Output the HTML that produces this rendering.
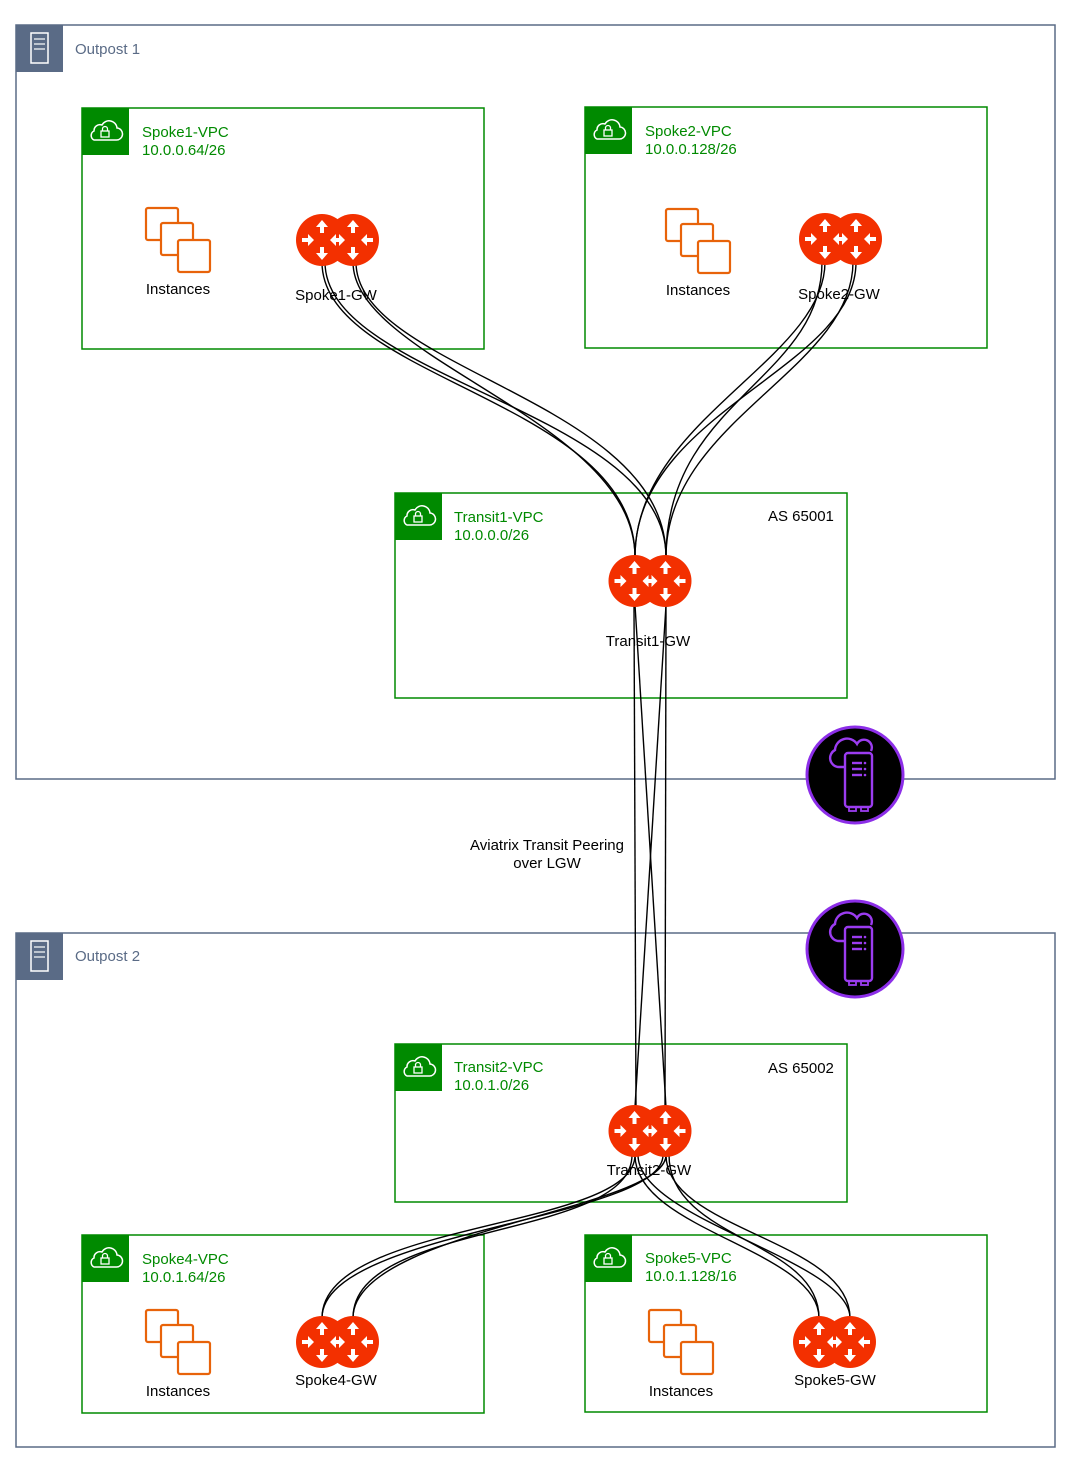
<!DOCTYPE html>
<html><head><meta charset="utf-8"><style>
html,body{margin:0;padding:0;background:#fff}
svg text{font-family:"Liberation Sans",Arial,sans-serif}
</style></head><body>
<svg width="1070" height="1464" viewBox="0 0 1070 1464" xmlns="http://www.w3.org/2000/svg">
<defs>
 <g id="rt1">
  <g fill="#fff">
   <path d="M0,-20 l-6,7 h4 v6 h4 v-6 h4z"/>
   <path d="M0,20 l-6,-7 h4 v-6 h4 v6 h4z"/>
   <path d="M-8,0 l-6,-6 v4 h-6 v4 h6 v4z"/>
   <path d="M8,0 l6,-6 v4 h6 v4 h-6 v4z"/>
  </g>
 </g>
 <g id="router">
  <circle cx="-15.5" cy="0" r="26" fill="#f33000"/>
  <circle cx="15.5" cy="0" r="26" fill="#f33000"/>
  <use href="#rt1" x="-15.5"/>
  <use href="#rt1" x="15.5"/>
 </g>
 <g id="inst" fill="none" stroke="#e8630a" stroke-width="2.2">
  <rect x="0" y="0" width="32" height="32" rx="2"/>
  <rect x="15" y="15" width="32" height="32" rx="2" fill="#fff"/>
  <rect x="32" y="32" width="32" height="32" rx="2" fill="#fff"/>
 </g>
 <g id="vpch">
  <rect x="0" y="0" width="47" height="47" fill="#008a00"/>
  <path d="M12,32 h22 a6,6 0 0 0 1,-12 a8,8 0 0 0 -15,-3 a6,6 0 0 0 -8,6 a5,5 0 0 0 0,9z" fill="none" stroke="#fff" stroke-width="1.5"/>
  <rect x="19" y="23" width="8" height="6" fill="none" stroke="#fff" stroke-width="1.3"/>
  <path d="M20.5,23 v-2 a2.5,2.5 0 0 1 5,0 v2" fill="none" stroke="#fff" stroke-width="1.3"/>
 </g>
 <g id="ophead">
  <rect x="0" y="0" width="47" height="47" fill="#5a6b86"/>
  <rect x="15" y="8" width="17" height="30" fill="none" stroke="#fff" stroke-width="1.5"/>
  <line x1="18" y1="14" x2="29" y2="14" stroke="#fff" stroke-width="1.2"/>
  <line x1="18" y1="19" x2="29" y2="19" stroke="#fff" stroke-width="1.2"/>
  <line x1="18" y1="24" x2="29" y2="24" stroke="#fff" stroke-width="1.2"/>
 </g>
 <g id="lgw">
  <circle cx="0" cy="0" r="48" fill="#000" stroke="#8c2ee8" stroke-width="3"/>
  <path d="M-10,-8 h-6 a9,9 0 0 1 -4,-17 a12,12 0 0 1 22,-6 a7,7 0 0 1 14,7" fill="none" stroke="#9b3cf0" stroke-width="2.4"/>
  <rect x="-10" y="-22" width="27" height="54" rx="3" fill="#000" stroke="#9b3cf0" stroke-width="2.4"/>
  <line x1="-3" y1="-12" x2="7" y2="-12" stroke="#9b3cf0" stroke-width="2.4"/>
  <line x1="-3" y1="-6" x2="7" y2="-6" stroke="#9b3cf0" stroke-width="2.4"/>
  <line x1="-3" y1="0" x2="7" y2="0" stroke="#9b3cf0" stroke-width="2.4"/>
  <circle cx="10" cy="-12" r="1.3" fill="#9b3cf0"/><circle cx="10" cy="-6" r="1.3" fill="#9b3cf0"/><circle cx="10" cy="0" r="1.3" fill="#9b3cf0"/>
  <rect x="-6" y="32" width="7" height="4" fill="none" stroke="#9b3cf0" stroke-width="1.8"/>
  <rect x="6" y="32" width="7" height="4" fill="none" stroke="#9b3cf0" stroke-width="1.8"/>
 </g>
</defs>

<rect x="16" y="25" width="1039" height="754" fill="none" stroke="#5a6b86" stroke-width="1.5"/>
<use href="#ophead" x="16" y="25"/>
<text x="75" y="54" font-size="15" fill="#5a6b86">Outpost 1</text>
<rect x="16" y="933" width="1039" height="514" fill="none" stroke="#5a6b86" stroke-width="1.5"/>
<use href="#ophead" x="16" y="933"/>
<text x="75" y="961" font-size="15" fill="#5a6b86">Outpost 2</text>

<g fill="none" stroke="#008a00" stroke-width="1.5">
 <rect x="82" y="108" width="402" height="241"/>
 <rect x="585" y="107" width="402" height="241"/>
 <rect x="395" y="493" width="452" height="205"/>
 <rect x="395" y="1044" width="452" height="158"/>
 <rect x="82" y="1235" width="402" height="178"/>
 <rect x="585" y="1235" width="402" height="177"/>
</g>
<use href="#vpch" x="82" y="108"/>
<use href="#vpch" x="585" y="107"/>
<use href="#vpch" x="395" y="493"/>
<use href="#vpch" x="395" y="1044"/>
<use href="#vpch" x="82" y="1235"/>
<use href="#vpch" x="585" y="1235"/>
<g font-size="15" fill="#008a00">
 <text x="142" y="137">Spoke1-VPC</text><text x="142" y="155">10.0.0.64/26</text>
 <text x="645" y="136">Spoke2-VPC</text><text x="645" y="154">10.0.0.128/26</text>
 <text x="454" y="522">Transit1-VPC</text><text x="454" y="540">10.0.0.0/26</text>
 <text x="454" y="1072">Transit2-VPC</text><text x="454" y="1090">10.0.1.0/26</text>
 <text x="142" y="1264">Spoke4-VPC</text><text x="142" y="1282">10.0.1.64/26</text>
 <text x="645" y="1263">Spoke5-VPC</text><text x="645" y="1281">10.0.1.128/16</text>
</g>
<g font-size="15" fill="#000">
 <text x="768" y="521">AS 65001</text>
 <text x="768" y="1073">AS 65002</text>
 <text x="178" y="294" text-anchor="middle">Instances</text>
 <text x="698" y="295" text-anchor="middle">Instances</text>
 <text x="178" y="1396" text-anchor="middle">Instances</text>
 <text x="681" y="1396" text-anchor="middle">Instances</text>
 <text x="336" y="300" text-anchor="middle">Spoke1-GW</text>
 <text x="839" y="299" text-anchor="middle">Spoke2-GW</text>
 <text x="648" y="646" text-anchor="middle">Transit1-GW</text>
 <text x="649" y="1175" text-anchor="middle">Transit2-GW</text>
 <text x="336" y="1385" text-anchor="middle">Spoke4-GW</text>
 <text x="835" y="1385" text-anchor="middle">Spoke5-GW</text>
 <text x="547" y="850" text-anchor="middle">Aviatrix Transit Peering</text>
 <text x="547" y="868" text-anchor="middle">over LGW</text>
</g>

<use href="#inst" x="146" y="208"/>
<use href="#inst" x="666" y="209"/>
<use href="#inst" x="146" y="1310"/>
<use href="#inst" x="649" y="1310"/>

<g fill="none" stroke="#000" stroke-width="1.4">
 <path d="M322,262 C322,380 635,400 635,557"/>
 <path d="M325,262 C325,380 666,410 666,557"/>
 <path d="M353,262 C353,360 635,420 635,557"/>
 <path d="M356,262 C356,370 666,400 666,557"/>
 <path d="M825,262 C825,360 635,420 635,557"/>
 <path d="M822,262 C822,380 666,400 666,557"/>
 <path d="M856,262 C856,370 635,410 635,557"/>
 <path d="M853,262 C853,370 666,420 666,557"/>
 <path d="M634,605 L636,1107"/>
 <path d="M666,605 L665,1107"/>
 <path d="M635,605 L666,1107"/>
 <path d="M666,605 L635,1107"/>
 <path d="M635,1155 C635,1230 322,1220 322,1318"/>
 <path d="M666,1155 C666,1210 353,1230 353,1318"/>
 <path d="M632,1155 C632,1240 353,1220 353,1318"/>
 <path d="M663,1155 C663,1220 322,1230 322,1318"/>
 <path d="M635,1155 C635,1230 819,1250 819,1318"/>
 <path d="M638,1155 C638,1220 850,1260 850,1318"/>
 <path d="M666,1155 C666,1230 850,1240 850,1318"/>
 <path d="M669,1155 C669,1240 819,1240 819,1318"/>
</g>

<use href="#router" x="337.5" y="240"/>
<use href="#router" x="840.5" y="239"/>
<use href="#router" x="650" y="581"/>
<use href="#router" x="650" y="1131"/>
<use href="#router" x="337.5" y="1342"/>
<use href="#router" x="834.5" y="1342"/>

<use href="#lgw" x="855" y="775"/>
<use href="#lgw" x="855" y="949"/>
</svg>
</body></html>
